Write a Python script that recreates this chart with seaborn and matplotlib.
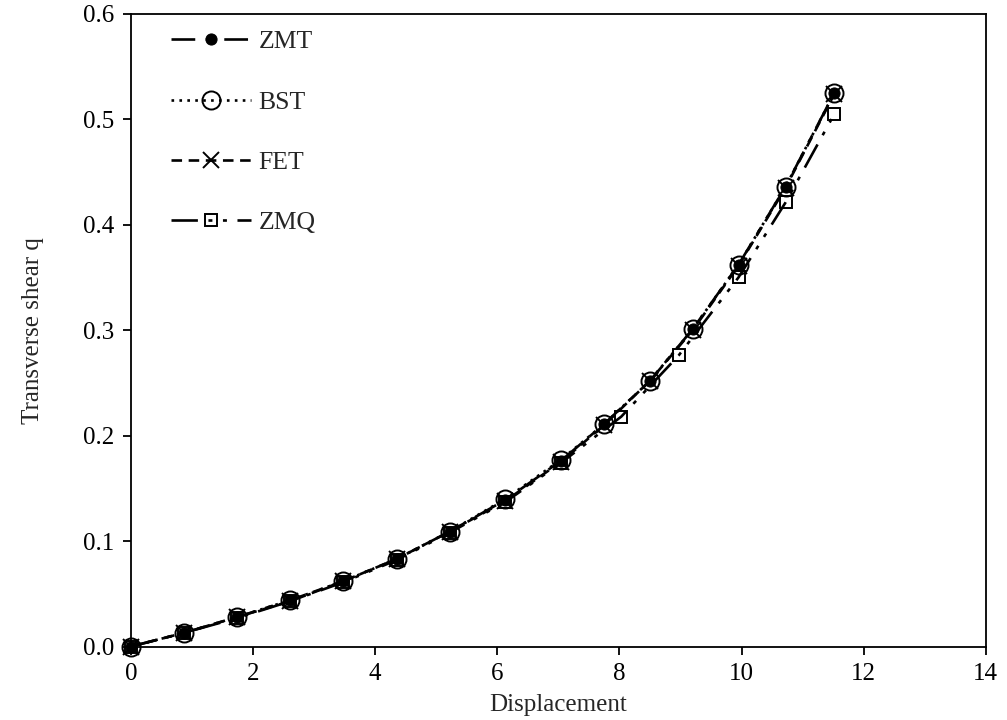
import numpy as np
import pandas as pd
import matplotlib
matplotlib.use("Agg")
import matplotlib.pyplot as plt
import seaborn as sns

# Displacement / transverse-shear load steps for each element formulation
zmt_x = [0, 0.87, 1.74, 2.61, 3.48, 4.35, 5.22, 6.13, 7.04, 7.75, 8.50, 9.20, 9.95, 10.72, 11.52]
zmt_y = [0, 0.013, 0.028, 0.044, 0.062, 0.083, 0.109, 0.139, 0.176, 0.211, 0.252, 0.301, 0.362, 0.436, 0.525]

bst_x = [0, 0.87, 1.74, 2.61, 3.48, 4.35, 5.22, 6.13, 7.04, 7.75, 8.50, 9.20, 9.95, 10.72, 11.52]
bst_y = [0, 0.013, 0.028, 0.044, 0.062, 0.083, 0.109, 0.140, 0.177, 0.211, 0.252, 0.301, 0.362, 0.436, 0.525]

fet_x = [0, 0.87, 1.74, 2.61, 3.48, 4.35, 5.22, 6.13, 7.04, 7.75, 8.50, 9.20, 9.95, 10.72, 11.52]
fet_y = [0, 0.013, 0.028, 0.043, 0.062, 0.083, 0.109, 0.138, 0.175, 0.210, 0.252, 0.300, 0.361, 0.435, 0.524]

zmq_x = [0, 0.87, 1.74, 2.61, 3.48, 4.35, 5.22, 6.13, 7.04, 8.03, 8.97, 9.95, 10.72, 11.52]
zmq_y = [0, 0.013, 0.027, 0.043, 0.061, 0.082, 0.108, 0.137, 0.174, 0.218, 0.276, 0.350, 0.421, 0.505]

x_ticks = [0, 2, 4, 6, 8, 10, 12, 14]
y_ticks = [0.0, 0.1, 0.2, 0.3, 0.4, 0.5, 0.6]

sns.set_style("ticks")
plt.rcParams["font.family"] = ["Liberation Serif", "DejaVu Serif"]

fig, ax = plt.subplots(figsize=(10.07, 7.2), dpi=100)
fig.subplots_adjust(left=0.13, right=0.979, top=0.981, bottom=0.102)

series = [
    ("ZMT", zmt_x, zmt_y, dict(marker="o", markersize=8, markerfacecolor="black",
                               markeredgecolor="black", dashes=(9, 4, 3, 4))),
    ("BST", bst_x, bst_y, dict(marker="o", markersize=13, markerfacecolor="none",
                               markeredgecolor="black", markeredgewidth=1.4, dashes=(1, 2))),
    ("FET", fet_x, fet_y, dict(marker="x", markersize=12, markeredgecolor="black",
                               markeredgewidth=1.4, dashes=(4, 2.5))),
    ("ZMQ", zmq_x, zmq_y, dict(marker="s", markersize=8, markerfacecolor="none",
                               markeredgecolor="black", markeredgewidth=1.4,
                               dashes=(10, 4, 1.5, 4, 1.5, 4))),
]

for name, xs, ys, kw in series:
    df = pd.DataFrame({"Displacement": xs, "q": ys})
    sns.lineplot(data=df, x="Displacement", y="q", ax=ax, color="black",
                 linewidth=1.9, label=name, sort=False, clip_on=False,
                 zorder=3, **kw)

ax.set_xlim(0, 14)
ax.set_ylim(0, 0.6)
ax.set_xticks(x_ticks)
ax.set_yticks(y_ticks)
ax.xaxis.set_major_formatter(matplotlib.ticker.FuncFormatter(lambda v, p: f"{v:g}"))
ax.yaxis.set_major_formatter(matplotlib.ticker.FormatStrFormatter("%.1f"))
ax.tick_params(axis="both", direction="out", length=6, width=1.3, labelsize=18,
               colors="black", pad=6)
for sp in ax.spines.values():
    sp.set_visible(True)
    sp.set_linewidth(1.3)
    sp.set_color("black")

ax.set_xlabel("Displacement", fontsize=18, labelpad=6)
ax.set_ylabel("Transverse shear q", fontsize=18, labelpad=28)

leg = ax.legend(loc="upper left", bbox_to_anchor=(0.02, 1.01), frameon=False,
                fontsize=18.5, handlelength=3.1, handletextpad=0.3,
                labelspacing=1.45)

fig.savefig("out.png", dpi=100)
